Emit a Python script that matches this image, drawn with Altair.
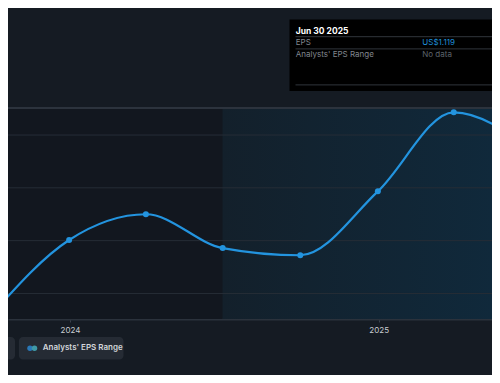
import altair as alt
import pandas as pd

# ---- data ----
dates = ["2023-09-30", "2023-12-31", "2024-03-31", "2024-06-30", "2024-09-30",
         "2024-12-31", "2025-03-31", "2025-06-30"]
eps = [0.18, 0.604, 0.750, 0.558, 0.517, 0.880, 1.329, 1.119]
visible = [False, True, True, True, True, True, True, False]

split_date = "2024-06-30"
tooltip_title = "Jun 30 2025"
tooltip_rows = ["EPS", "Analysts' EPS Range"]
tooltip_vals = ["US$1.119", "No data"]
legend_label = "Analysts' EPS Range"
grid_vals = [0.3, 0.6, 0.9, 1.2]

BG = "#151b23"
LINE = "#2394df"
FONT = "Inter"

df = pd.DataFrame({"date": dates, "eps": eps, "vis": visible})
pts = df[df["vis"]]

x_dom = [alt.DateTime(year=2023, month=10, date=19, hours=12, utc=True),
         alt.DateTime(year=2025, month=5, date=15, hours=8, utc=True)]
y_dom = [0.155, 1.3535]

xs = alt.Scale(type="utc", domain=x_dom)
ys = alt.Scale(domain=y_dom, nice=False, zero=False)

xaxis = alt.Axis(title=None, format="%Y", tickCount={"interval": "year", "step": 1},
                 grid=False, domainColor="#2b323c", domainWidth=2,
                 tickColor="#3a414b", tickSize=3, labelColor="#c8ccd0",
                 labelFont=FONT, labelFontSize=8, labelPadding=4)
yenc = alt.Y("eps:Q", scale=ys, axis=None)

regions = pd.DataFrame({
    "date": ["2023-10-19T12:00:00Z", split_date],
    "end": [split_date, "2025-05-15T08:00:00Z"],
    "k": ["past", "recent"],
})

left_rect = alt.Chart(regions[regions["k"] == "past"]).mark_rect(color="#12171f").encode(
    x=alt.X("date:T", scale=xs, axis=xaxis), x2="end:T")

grad = alt.Gradient(gradient="linear",
                    stops=[alt.GradientStop(color="#13202b", offset=0),
                           alt.GradientStop(color="#10293b", offset=1)],
                    x1=0, x2=1, y1=0, y2=0)
right_rect = alt.Chart(regions[regions["k"] == "recent"]).mark_rect(color=grad).encode(
    x=alt.X("date:T", scale=xs, axis=xaxis), x2="end:T")

grid_df = pd.DataFrame({"g": grid_vals})
grid = alt.Chart(grid_df).mark_rule(color="#262d36", strokeWidth=1).encode(
    y=alt.Y("g:Q", scale=ys, axis=None))

top_df = pd.DataFrame({"g": [y_dom[1]]})
top_line = alt.Chart(top_df).mark_rule(color="#2c333d", strokeWidth=2).encode(
    y=alt.Y("g:Q", scale=ys, axis=None))

line = alt.Chart(df).mark_line(color=LINE, strokeWidth=2.2, interpolate="monotone", clip=True).encode(
    x=alt.X("date:T", scale=xs, axis=xaxis), y=yenc)
points = alt.Chart(pts).mark_circle(color=LINE, size=36, opacity=1, clip=True).encode(
    x=alt.X("date:T", scale=xs, axis=xaxis), y=yenc)

# ---- tooltip box (above plot, plot-area coordinates) ----
tt_box = alt.Chart(pd.DataFrame({"a": [0]})).mark_rect(color="#000000").encode(
    x=alt.value(281.5), x2=alt.value(490), y=alt.value(-88.5), y2=alt.value(-17))
sep_df = pd.DataFrame({"yy": [-71.3, -59.1, -23.1]})
tt_seps = alt.Chart(sep_df).mark_rule(color="#30353c", strokeWidth=1).encode(
    x=alt.value(287.5), x2=alt.value(484), y=alt.Y("yy:Q", scale=None))
tt_title = alt.Chart(pd.DataFrame({"t": [tooltip_title]})).mark_text(
    align="left", baseline="middle", color="#ffffff", fontSize=8.5, fontWeight="bold", font=FONT
).encode(text="t:N", x=alt.value(287.8), y=alt.value(-77.5))
rows_df = pd.DataFrame({"lab": tooltip_rows, "val": tooltip_vals, "yy": [-65.5, -53.3]})
tt_labels = alt.Chart(rows_df).mark_text(
    align="left", baseline="middle", color="#80868e", fontSize=8, font=FONT
).encode(text="lab:N", x=alt.value(287.8), y=alt.Y("yy:Q", scale=None))
tt_vals = alt.Chart(rows_df).mark_text(
    align="left", baseline="middle", fontSize=8, font=FONT
).encode(text="val:N", x=alt.value(414.3), y=alt.Y("yy:Q", scale=None),
         color=alt.Color("val:N", scale=alt.Scale(domain=tooltip_vals, range=["#1f8fd8", "#5d636b"]), legend=None))

# ---- legend buttons below plot ----
btn1 = alt.Chart(pd.DataFrame({"a": [0]})).mark_rect(color="#252b34", cornerRadius=4).encode(
    x=alt.value(-10), x2=alt.value(7), y=alt.value(229), y2=alt.value(251.5))
btn2 = alt.Chart(pd.DataFrame({"a": [0]})).mark_rect(color="#252b34", cornerRadius=4).encode(
    x=alt.value(10.9), x2=alt.value(115.5), y=alt.value(229), y2=alt.value(251.5))
dot_df = pd.DataFrame({"xx": [22.0, 26.5], "c": ["a", "b"]})
dots = alt.Chart(dot_df).mark_circle(size=30, opacity=1).encode(
    x=alt.X("xx:Q", scale=None), y=alt.value(240.3),
    color=alt.Color("c:N", scale=alt.Scale(domain=["a", "b"], range=["#2a78b8", "#3f9aa8"]), legend=None))
leg_txt = alt.Chart(pd.DataFrame({"t": [legend_label]})).mark_text(
    align="left", baseline="middle", color="#d3d6da", fontSize=8, fontWeight=600, font=FONT
).encode(text="t:N", x=alt.value(34.8), y=alt.value(240.3))

chart = alt.layer(
    left_rect, right_rect, grid, top_line, line, points,
    tt_box, tt_seps, tt_title, tt_labels, tt_vals,
    btn1, btn2, dots, leg_txt,
).resolve_scale(color="independent").properties(
    width=484, height=211,
    padding={"left": 0, "right": 0, "top": 100, "bottom": 56},
    autosize=alt.AutoSizeParams(type="none"),
    background=BG,
).configure_view(stroke=None)

chart.save("out.html", embed_options={"renderer": "svg", "actions": False})
